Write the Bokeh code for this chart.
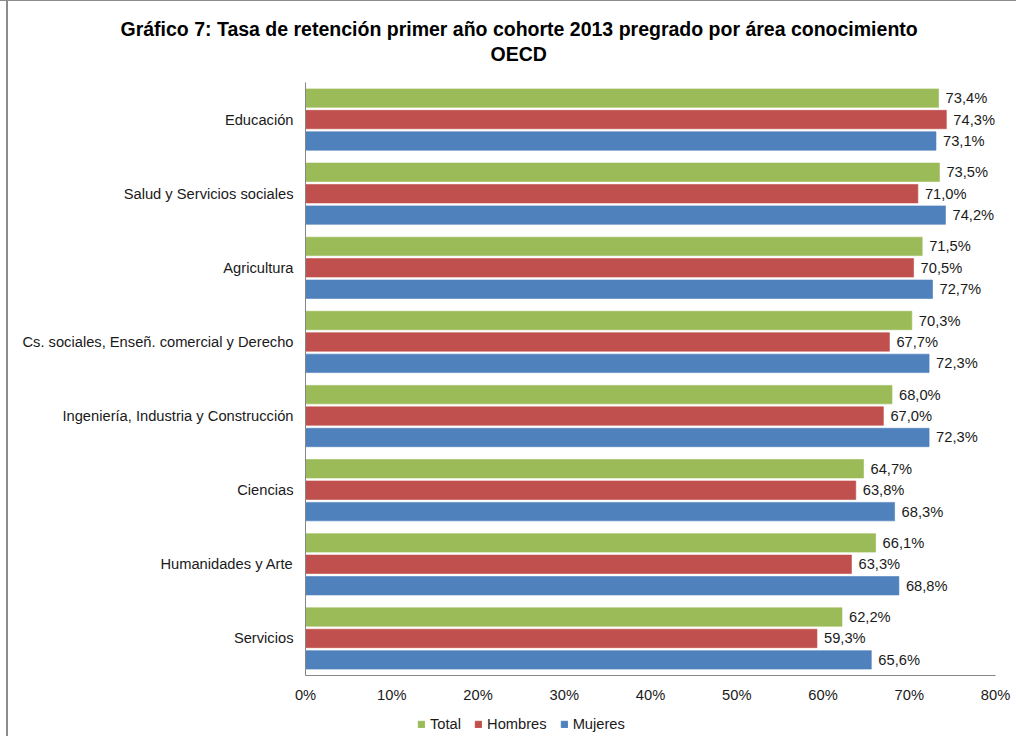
from bokeh.plotting import figure
from bokeh.layouts import column, row
from bokeh.models import Range1d, FixedTicker, ColumnDataSource, Legend, LegendItem, Title, Spacer
from bokeh.core.properties import value
from bokeh.embed import file_html
from bokeh.resources import INLINE

categories = ["Educación", "Salud y Servicios sociales", "Agricultura",
              "Cs. sociales, Enseñ. comercial y Derecho",
              "Ingeniería, Industria y Construcción", "Ciencias",
              "Humanidades y Arte", "Servicios"]
total = [73.4, 73.5, 71.5, 70.3, 68.0, 64.7, 66.1, 62.2]
hombres = [74.3, 71.0, 70.5, 67.7, 67.0, 63.8, 63.3, 59.3]
mujeres = [73.1, 74.2, 72.7, 72.3, 72.3, 68.3, 68.8, 65.6]
series_names = ["Total", "Hombres", "Mujeres"]
colors = ["#9BBB59", "#C0504D", "#4F81BD"]
x_ticks = [0, 10, 20, 30, 40, 50, 60, 70, 80]
title_lines = ["Gráfico 7: Tasa de retención primer año cohorte 2013 pregrado por área conocimiento",
               "OECD"]

FONT = "Liberation Sans"
FS = "14.7px"
BORDER = "#8c8c8c"
n = len(categories)
centers = [n - 0.5 - i for i in range(n)]

p = figure(width=1008, height=704, output_backend="svg", toolbar_location=None,
           x_range=Range1d(0, 80), y_range=Range1d(0, n),
           min_border_left=297, min_border_right=21, min_border_top=81, min_border_bottom=28)
p.title = None
p.outline_line_color = None
p.grid.visible = False
p.background_fill_color = "white"
p.border_fill_color = "white"

band_px = 74.375
step = 21.5 / band_px
bar_h = 18.5 / band_px
for k, (name, vals, col) in enumerate(zip(series_names, [total, hombres, mujeres], colors)):
    ys = [c + (1 - k) * step for c in centers]
    src = ColumnDataSource(dict(y=ys, v=vals, lab=[f"{v:.1f}%".replace(".", ",") for v in vals]))
    p.hbar(y="y", right="v", left=0, height=bar_h, source=src, fill_color=col,
           line_color=col, line_alpha=0.6, line_width=1)
    p.text(x="v", y="y", text="lab", source=src, x_offset=7, text_baseline="middle",
           text_align="left", text_font=value(FONT), text_font_size=FS, text_color="#1a1a1a")

# axes
p.xaxis.ticker = FixedTicker(ticks=x_ticks)
p.xaxis.major_label_overrides = {t: f"{t}%" for t in x_ticks}
p.yaxis.ticker = FixedTicker(ticks=centers)
p.yaxis.major_label_overrides = {c: cat for c, cat in zip(centers, categories)}
for ax in (p.xaxis, p.yaxis):
    ax.major_tick_line_color = None
    ax.minor_tick_line_color = None
    ax.major_tick_out = 0
    ax.major_tick_in = 0
    ax.minor_tick_out = 0
    ax.minor_tick_in = 0
    ax.axis_line_color = "#868686"
    ax.major_label_text_font = FONT
    ax.major_label_text_font_size = FS
    ax.major_label_text_color = "#1a1a1a"
p.xaxis.major_label_standoff = 11
p.yaxis.major_label_standoff = 12

# title: spacer nearest the frame, then the two centred lines
p.add_layout(Title(text=" ", text_font=FONT, text_font_size="10px", standoff=4), "above")
p.add_layout(Title(text=title_lines[1], align="left", offset=185, standoff=2,
                   text_font=FONT, text_font_size="19.5px", text_font_style="bold",
                   text_color="#000000"), "above")
p.add_layout(Title(text=title_lines[0], align="left", offset=-185, standoff=0,
                   text_font=FONT, text_font_size="19.5px", text_font_style="bold",
                   text_color="#000000"), "above")

# legend strip below the chart (frames are aligned by the column layout)
lf = figure(width=1008, height=31, output_backend="svg", toolbar_location=None,
            x_range=Range1d(0, 1), y_range=Range1d(0, 1),
            min_border_left=0, min_border_right=0, min_border_top=0, min_border_bottom=0)
lf.title = None
lf.axis.visible = False
lf.grid.visible = False
lf.outline_line_color = None
lf.border_fill_color = "white"
items = []
for name, col in zip(series_names, colors):
    # one off-range bar per series so that the legend swatch has a colour to draw
    r = lf.hbar(y=[-5], right=[0.5], left=0.4, height=0.5, fill_color=col, line_color=col)
    items.append(LegendItem(label=name, renderers=[r]))
legend = Legend(items=items, orientation="horizontal", location=(112, 4), padding=0, margin=0,
                border_line_color=None, background_fill_alpha=0,
                glyph_width=8, glyph_height=8, label_height=15, label_standoff=5, spacing=13,
                label_text_font=FONT, label_text_font_size=FS, label_text_color="#1a1a1a")
lf.add_layout(legend, "center")

# chart-area border (top and left edges, as in the screenshot)
top_line = Spacer(width=1016, height=1, styles={"background-color": BORDER})
left_gap = Spacer(width=6, height=735)
left_line = Spacer(width=2, height=735, styles={"background-color": BORDER})

layout = column(top_line, row(left_gap, left_line, column(p, lf, spacing=0), spacing=0), spacing=0)
open("out.html", "w").write(file_html(layout, INLINE))
